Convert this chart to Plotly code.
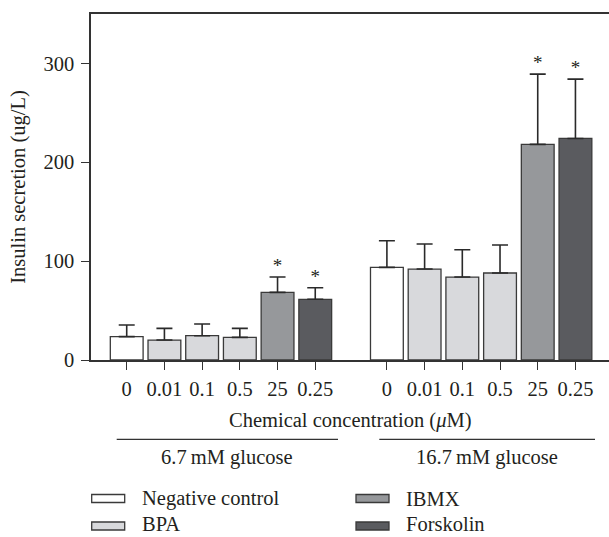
import plotly.graph_objects as go

# ---- data ----
tick_labels = ["0", "0.01", "0.1", "0.5", "25", "0.25",
               "0", "0.01", "0.1", "0.5", "25", "0.25"]
positions = [0, 1, 2, 3, 4, 5, 6.9, 7.9, 8.9, 9.9, 10.9, 11.9]

series_names = ["Negative control", "BPA", "IBMX", "Forskolin"]
series_colors = ["#ffffff", "#d8d9dc", "#96989b", "#5a5b5f"]

neg_x = [0, 6.9]
neg_y = [23.6, 93.7]
neg_err = [11.8, 26.9]

bpa_x = [1, 2, 3, 7.9, 8.9, 9.9]
bpa_y = [20.2, 24.6, 22.9, 92.0, 83.9, 88.0]
bpa_err = [11.8, 11.8, 9.1, 25.3, 27.6, 28.3]

ibmx_x = [4, 10.9]
ibmx_y = [68.4, 218.1]
ibmx_err = [15.5, 71.1]

fsk_x = [5, 11.9]
fsk_y = [61.4, 224.1]
fsk_err = [11.7, 60.0]

groups = ["6.7\u2009mM glucose", "16.7\u2009mM glucose"]

FONT = "Liberation Serif"
TXT = "#231f20"
EDGE = "#3a3a3a"
FS = 20.5

fig = go.Figure()
for name, color, xs, ys, es in zip(
        series_names, series_colors,
        [neg_x, bpa_x, ibmx_x, fsk_x],
        [neg_y, bpa_y, ibmx_y, fsk_y],
        [neg_err, bpa_err, ibmx_err, fsk_err]):
    fig.add_trace(go.Bar(
        x=xs, y=ys, name=name, width=0.87,
        marker=dict(color=color, line=dict(color=EDGE, width=1.3)),
        error_y=dict(type="data", array=es, arrayminus=[0] * len(es),
                     symmetric=False, color="#2a2a2a", thickness=1.6, width=8),
        showlegend=False,
    ))

# significance asterisks above IBMX and Forskolin
star_x = ibmx_x + fsk_x
star_y = [v + e for v, e in zip(ibmx_y + fsk_y, ibmx_err + fsk_err)]
fig.add_trace(go.Scatter(
    x=star_x, y=star_y, mode="text", text=["*"] * len(star_x),
    textposition="top center",
    textfont=dict(family=FONT, size=19, color=TXT),
    showlegend=False, hoverinfo="skip"))

fig.update_layout(
    width=609, height=537,
    margin=dict(l=91, r=0, t=14, b=177),
    paper_bgcolor="white", plot_bgcolor="white",
    barmode="overlay",
    font=dict(family=FONT, size=FS, color=TXT),
    xaxis=dict(
        range=[-0.947, 12.79], tickmode="array", tickvals=positions,
        ticktext=tick_labels, ticks="outside", ticklen=8, tickwidth=1.3,
        tickcolor="#333", showline=True, linecolor="#333", linewidth=1.5,
        mirror=True, showgrid=False, zeroline=False,
        tickfont=dict(family=FONT, size=FS, color=TXT),
        ticklabelstandoff=2,
    ),
    yaxis=dict(
        range=[0, 350], tickvals=[0, 100, 200, 300], ticks="outside",
        ticklen=8, tickwidth=1.3, tickcolor="#333", showline=True,
        linecolor="#333", linewidth=1.5, showgrid=False, zeroline=False,
        tickfont=dict(family=FONT, size=FS, color=TXT),
        ticklabelstandoff=3,
        title=dict(text="Insulin secretion (ug/L)",
                   font=dict(family=FONT, size=FS, color=TXT), standoff=12),
    ),
)

W = 609.0
def py(yp):
    return 1 - (yp - 14) / (360 - 14)
def px(xp):
    return (xp - 91) / (W - 91)

# x-axis title
fig.add_annotation(text="Chemical concentration (<i>\u03bc</i>M)", xref="paper", yref="paper",
                   x=px(350), y=py(420), showarrow=False, xanchor="center", yanchor="middle",
                   font=dict(family=FONT, size=FS, color=TXT))

# group lines and labels
for (x0, x1), g in zip([(116.7, 338), (379.3, 595)], groups):
    fig.add_shape(type="line", xref="paper", yref="paper",
                  x0=px(x0), x1=px(x1), y0=py(439.3), y1=py(439.3),
                  line=dict(color="#333", width=1.3))
    fig.add_annotation(text=g, xref="paper", yref="paper",
                       x=px((x0 + x1) / 2), y=py(458), showarrow=False,
                       xanchor="center", yanchor="middle",
                       font=dict(family=FONT, size=FS, color=TXT))

# legend (manual)
legend_pos = [(91.7, 498.5), (91.7, 526), (356, 498.5), (356, 526)]
for i, ((lx, ly), name, color) in enumerate(zip(legend_pos, series_names, series_colors)):
    fig.add_shape(type="rect", xref="paper", yref="paper",
                  x0=px(lx), x1=px(lx + 33), y0=py(ly - 4), y1=py(ly + 4),
                  fillcolor=color, line=dict(color=EDGE, width=1.3))
    if i % 2 == 0:
        fig.add_annotation(text=name, xref="paper", yref="paper",
                           x=px(lx + 48), y=py(ly), showarrow=False,
                           xanchor="left", yanchor="middle",
                           font=dict(family=FONT, size=FS, color=TXT))
    else:
        fig.add_annotation(text=name, xref="paper", yref="paper",
                           x=px(lx + 48), y=py(536.5), showarrow=False,
                           xanchor="left", yanchor="bottom",
                           font=dict(family=FONT, size=FS, color=TXT))

fig.write_html("out.html", config={"displayModeBar": False},
               post_script="document.body.style.margin='0px';document.body.style.overflow='hidden';")
